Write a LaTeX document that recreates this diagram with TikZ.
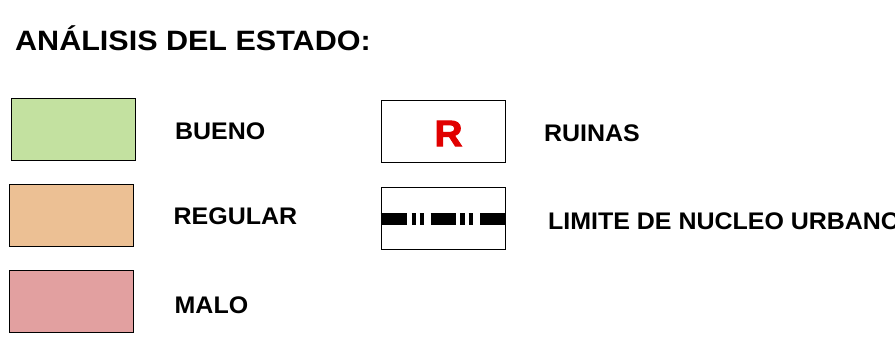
\documentclass[tikz,border=0pt]{standalone}
\usepackage{fontspec}
\setmainfont{Liberation Sans}
\newfontfamily\labelfont{Liberation Sans Bold}[FakeStretch=1.04]
\newfontfamily\titlefont{Liberation Sans Bold}[FakeStretch=1.09]
\newfontfamily\symfont{Liberation Sans Bold}[FakeBold=2.5, FakeStretch=1.05]
\definecolor{bueno}{RGB}{195,225,160}
\definecolor{regular}{RGB}{236,192,148}
\definecolor{malo}{RGB}{226,160,160}
\definecolor{ruinas}{RGB}{225,0,0}

\tikzset{
  swatch/.style={draw=black, line width=1pt, minimum width=124pt, minimum height=62pt, inner sep=0pt},
  legtext/.style={anchor=base west, inner sep=0pt, font=\labelfont\fontsize{24pt}{28pt}\selectfont},
}

\begin{document}
\begin{tikzpicture}[x=1pt, y=-1pt]
   \useasboundingbox (0,0) rectangle (895,339);
   \clip (0,0) rectangle (895,339);

   % title
   \node[anchor=base west, inner sep=0pt, font=\titlefont\fontsize{28pt}{32pt}\selectfont] (title) at (15, 51) {ANÁLISIS DEL ESTADO:};

   % swatches
   \node[swatch, fill=bueno] (bueno) at (73, 130) {};
   \node[swatch, fill=regular] (regular) at (71.3, 215.8) {};
   \node[swatch, fill=malo] (malo) at (71.3, 301.5) {};
   \node[swatch] (ruinas) at (443, 131.8) {};
   \node[swatch] (limite) at (443, 218.3) {};

   % symbols
   \node[inner sep=0pt, text=ruinas, font=\symfont\fontsize{37pt}{40pt}\selectfont] (rsym) at (448.5, 133.5) {R};
   \draw[line width=12pt, dash pattern=on 26pt off 5pt on 4.5pt off 3.5pt on 4.5pt off 6.5pt on 25.5pt off 4pt on 4.5pt off 4pt on 4pt off 7.5pt on 40pt]
     (limite.west |- 0,219) -- (limite.east |- 0,219);

   % labels
   \node[legtext] (tbueno) at (175, 139.5) {BUENO};
   \node[legtext] (tregular) at (173.5, 225) {REGULAR};
   \node[legtext] (tmalo) at (174.5, 314) {MALO};
   \node[legtext] (truinas) at (544, 141.7) {RUINAS};
   \node[legtext] (tlimite) at (548, 229.3) {LIMITE DE NUCLEO URBANO};
\end{tikzpicture}
\end{document}
